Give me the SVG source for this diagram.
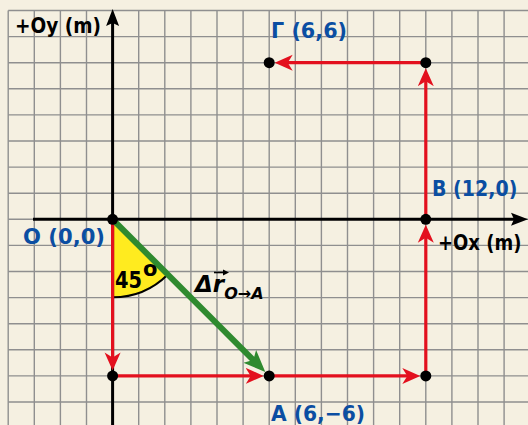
<svg xmlns="http://www.w3.org/2000/svg" width="528" height="425" viewBox="0 0 528 425">
<style>
.grid{stroke:#8f8f8f;stroke-width:1.4;fill:none}
.axis{stroke:#000;stroke-width:3;fill:none}
.red{stroke:#e3101e;stroke-width:3.2;fill:none;marker-end:url(#ar)}
.green{stroke:#2f8a2f;stroke-width:6;fill:none;marker-end:url(#ag)}
.dot{fill:#000}
.lbl{font-family:"DejaVu Sans",Verdana,sans-serif;font-weight:bold;fill:#0b4ea2;font-size:22px}
.blk{font-family:"DejaVu Sans",Verdana,sans-serif;font-weight:bold;fill:#000}
</style>
<defs>
<marker id="ar" viewBox="0 -9 19 18" refX="7" refY="0" markerWidth="19" markerHeight="18" markerUnits="userSpaceOnUse" orient="auto"><path d="M18,0 L0,-8 L5,0 L0,8 Z" fill="#e3101e"/></marker>
<marker id="ag" viewBox="0 -10 23 20" refX="8" refY="0" markerWidth="23" markerHeight="20" markerUnits="userSpaceOnUse" orient="auto"><path d="M22,0 L0,-9 L5,0 L0,9 Z" fill="#2f8a2f"/></marker>
<marker id="ak" viewBox="0 -8 18 16" refX="6" refY="0" markerWidth="18" markerHeight="16" markerUnits="userSpaceOnUse" orient="auto"><path d="M17,0 L0,-6.5 L3,0 L0,6.5 Z" fill="#000"/></marker>
</defs>
<rect width="528" height="425" fill="#f5f0e1"/>
<g id="grid" class="grid">
<path d="M8.2,10.5V425M34.3,10.5V425M60.4,10.5V425M86.5,10.5V425M112.6,10.5V425M138.7,10.5V425M164.8,10.5V425M190.9,10.5V425M217,10.5V425M243.1,10.5V425M269.2,10.5V425M295.3,10.5V425M321.4,10.5V425M347.5,10.5V425M373.6,10.5V425M399.7,10.5V425M425.8,10.5V425M451.9,10.5V425M478,10.5V425M504.1,10.5V425"/>
<path d="M8.2,10.5H528M8.2,36.6H528M8.2,62.7H528M8.2,88.8H528M8.2,114.9H528M8.2,141H528M8.2,167.1H528M8.2,193.2H528M8.2,219.3H528M8.2,245.4H528M8.2,271.5H528M8.2,297.6H528M8.2,323.7H528M8.2,349.8H528M8.2,375.9H528M8.2,402H528"/>
</g>
<g id="angle">
<path d="M112.6,219.3 L112.6,297.3 A78,78 0 0 0 167.8,274.5 Z" fill="#ffeb1f"/>
<path d="M112.6,297.3 A78,78 0 0 0 167.8,274.5" fill="none" stroke="#000" stroke-width="2"/>
</g>
<g id="axes">
<path class="axis" d="M33,219.3 H517" marker-end="url(#ak)"/>
<path class="axis" d="M112.6,425 V20" marker-end="url(#ak)"/>
</g>
<g id="connectors">
<path class="red" d="M112.6,219.3 V359.4"/>
<path class="red" d="M112.6,375.9 H252.7"/>
<path class="red" d="M269.2,375.9 H409.3"/>
<path class="red" d="M425.8,375.9 V235.8"/>
<path class="red" d="M425.8,219.3 V79.2"/>
<path class="red" d="M425.8,62.7 H285.7"/>
<path class="green" d="M112.6,219.3 L255.4,362.1"/>
</g>
<g id="node-O"><circle class="dot" cx="112.6" cy="219.3" r="5.5"/><text class="lbl" x="23" y="244" textLength="82" lengthAdjust="spacingAndGlyphs">O (0,0)</text></g>
<g id="node-P1"><circle class="dot" cx="112.6" cy="375.9" r="5.5"/></g>
<g id="node-A"><circle class="dot" cx="269.2" cy="375.9" r="5.5"/><text class="lbl" x="271" y="421" textLength="94" lengthAdjust="spacingAndGlyphs">A (6,−6)</text></g>
<g id="node-P2"><circle class="dot" cx="425.8" cy="375.9" r="5.5"/></g>
<g id="node-B"><circle class="dot" cx="425.8" cy="219.3" r="5.5"/><text class="lbl" transform="translate(432,196) scale(1,1.158)" x="0" y="0" style="font-size:19px">B (12,0)</text></g>
<g id="node-P3"><circle class="dot" cx="425.8" cy="62.7" r="5.5"/></g>
<g id="node-G"><circle class="dot" cx="269.2" cy="62.7" r="5.5"/><text class="lbl" x="271" y="38" textLength="76" lengthAdjust="spacingAndGlyphs">Γ (6,6)</text></g>
<g id="labels">
<text class="blk" x="15" y="33" font-size="21" textLength="86" lengthAdjust="spacingAndGlyphs">+Oy (m)</text>
<text class="blk" transform="translate(438,250) scale(1,1.139)" x="0" y="0" font-size="18">+Ox (m)</text>
<text class="blk" transform="translate(115,288) scale(1,1.186)" x="0" y="0" font-size="19.4">45</text>
<text class="blk" x="143" y="276" font-size="21">o</text>
<text class="blk" x="195" y="292" font-size="23" font-style="italic">Δr<tspan font-size="16" dy="7">O→A</tspan></text>
<path d="M214,272.5 H224" stroke="#000" stroke-width="1.6"/>
<path d="M229,272.5 L223,269.5 L223,275.5 Z" fill="#000"/>
</g>
</svg>
